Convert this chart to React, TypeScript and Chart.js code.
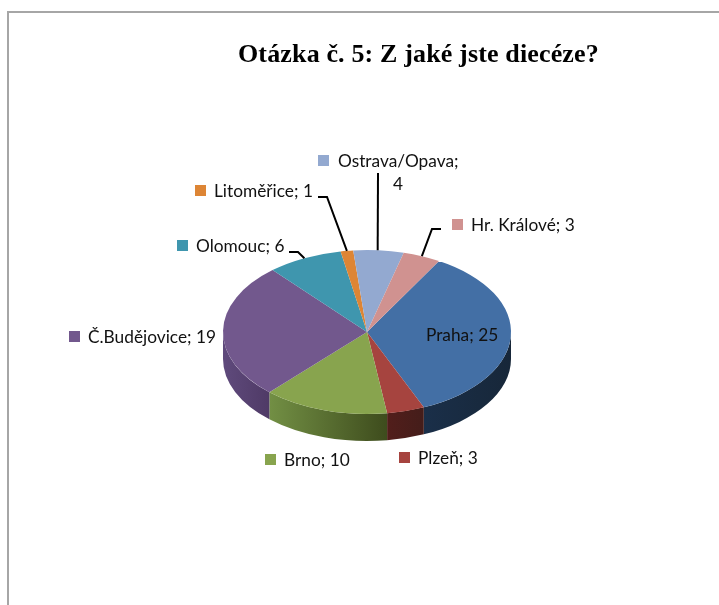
import React, { useEffect, useRef } from "react";
import { Chart, registerables } from "chart.js";

Chart.register(...registerables);

const title = "Otázka č. 5: Z jaké jste diecéze?";
const categories = ["Praha", "Plzeň", "Brno", "Č.Budějovice", "Olomouc", "Litoměřice", "Ostrava/Opava", "Hr. Králové"];
const answers = [25, 3, 10, 19, 6, 1, 4, 3];
const topColors = ["#436fa5", "#a6443f", "#88a44e", "#72588d", "#3f96ae", "#dd8535", "#93a9d0", "#d09290"];
const sideLeft = ["#1a2f49", "#521e1b", "#728f44", "#5f4a7c", "#2f7080", "#a86428", "#6e7f9c", "#9c6e6c"];
const sideRight = ["#172739", "#441d1a", "#3e4c1d", "#4f3a66", "#2f7080", "#a86428", "#6e7f9c", "#9c6e6c"];

// Where each label sits: swatch left, text centre line, and leader elbows.
type Place = { x: number; y: number; lines?: number[][]; anchorDx?: number };
const places: Place[] = [
  { x: 407, y: 335 },
  { x: 399, y: 458 },
  { x: 265, y: 460 },
  { x: 69, y: 337 },
  { x: 177, y: 246, lines: [[289, 252], [298, 252]] },
  { x: 195, y: 191, lines: [[318, 197], [327, 197]] },
  { x: 318, y: 161, lines: [[378, 173]], anchorDx: -1 },
  { x: 452, y: 225, lines: [[441, 229], [432, 229]] },
];

const FLATTEN = 82 / 144;
const DEPTH = 27;
const LABEL_FONT = "17.3px Lato, 'Open Sans', sans-serif";

const sidesPlugin = {
  id: "pieSides",
  beforeDatasetsDraw(chart: any) {
    const ctx = chart.ctx;
    const arcs = chart.getDatasetMeta(0).data;
    const { x: cx, y: cy, outerRadius: r } = arcs[0].getProps(["x", "y", "outerRadius"]);
    const ry = r * FLATTEN;
    arcs.forEach((arc: any, i: number) => {
      const { startAngle, endAngle } = arc.getProps(["startAngle", "endAngle"]);
      for (const turn of [0, Math.PI * 2, -Math.PI * 2]) {
        const a = Math.max(startAngle + turn, 0);
        const b = Math.min(endAngle + turn, Math.PI);
        if (b <= a) continue;
        const xa = cx + r * Math.cos(a);
        const xb = cx + r * Math.cos(b);
        const g = ctx.createLinearGradient(Math.min(xa, xb), 0, Math.max(xa, xb), 0);
        g.addColorStop(0, sideLeft[i]);
        g.addColorStop(1, sideRight[i]);
        ctx.beginPath();
        ctx.ellipse(cx, cy, r, ry, 0, a, b, false);
        ctx.ellipse(cx, cy + DEPTH, r, ry, 0, b, a, true);
        ctx.closePath();
        ctx.fillStyle = g;
        ctx.fill();
      }
    });
    ctx.save();
    ctx.translate(cx, cy);
    ctx.scale(1, FLATTEN);
    ctx.translate(-cx, -cy);
  },
  afterDatasetsDraw(chart: any) {
    chart.ctx.restore();
  },
};

const decorationPlugin = {
  id: "decor",
  beforeDraw(chart: any) {
    const ctx = chart.ctx;
    ctx.save();
    ctx.strokeStyle = "#a6a6a6";
    ctx.lineWidth = 2;
    ctx.beginPath();
    ctx.moveTo(8, chart.height);
    ctx.lineTo(8, 12);
    ctx.lineTo(chart.width, 12);
    ctx.stroke();
    ctx.restore();
  },
  afterDraw(chart: any) {
    const ctx = chart.ctx;
    const arcs = chart.getDatasetMeta(0).data;
    ctx.save();
    ctx.fillStyle = "#000";
    ctx.font = "bold 26px 'Liberation Serif', serif";
    ctx.textAlign = "left";
    ctx.textBaseline = "alphabetic";
    ctx.letterSpacing = "0.15px";
    ctx.fillText(title, 238, 62);
    ctx.letterSpacing = "0px";

    ctx.textBaseline = "middle";
    ctx.font = LABEL_FONT;
    categories.forEach((name, i) => {
      const p = places[i];
      const value = answers[i];
      ctx.fillStyle = topColors[i];
      ctx.fillRect(p.x, p.y - 6, 11, 11);
      ctx.fillStyle = "#111";
      if (name === "Ostrava/Opava") {
        ctx.fillText(`${name};`, p.x + 20, p.y);
        ctx.textAlign = "center";
        ctx.fillText(String(value), 398, p.y + 23);
        ctx.textAlign = "left";
      } else {
        ctx.fillText(`${name}; ${value}`, p.x + 19, p.y);
      }
      if (p.lines) {
        const { x, y, outerRadius, startAngle, endAngle } = arcs[i].getProps(["x", "y", "outerRadius", "startAngle", "endAngle"]);
        const mid = (startAngle + endAngle) / 2;
        ctx.strokeStyle = "#000";
        ctx.lineWidth = 2;
        ctx.beginPath();
        p.lines.forEach(([lx, ly], k) => (k ? ctx.lineTo(lx, ly) : ctx.moveTo(lx, ly)));
        ctx.lineTo(x + outerRadius * Math.cos(mid) + (p.anchorDx || 0), y + outerRadius * FLATTEN * Math.sin(mid));
        ctx.stroke();
      }
    });
    ctx.restore();
  },
};

export default function App() {
  const ref = useRef<HTMLCanvasElement>(null);
  useEffect(() => {
    const chart = new Chart(ref.current!, {
      type: "pie",
      data: {
        labels: categories,
        datasets: [{ data: answers, backgroundColor: topColors, borderWidth: 0 }],
      },
      options: {
        animation: false,
        responsive: false,
        rotation: 30,
        layout: { padding: { left: 223, right: 208, top: 188, bottom: 129 } },
        plugins: { legend: { display: false }, tooltip: { enabled: false } },
      },
      plugins: [sidesPlugin, decorationPlugin],
    } as any);
    return () => chart.destroy();
  }, []);
  return (
    <div style={{ position: "fixed", left: 0, top: 0, width: 719, height: 605, background: "#fff", overflow: "hidden" }}>
      <canvas ref={ref} width={719} height={605} style={{ display: "block", filter: "blur(0.45px)" }} />
    </div>
  );
}
